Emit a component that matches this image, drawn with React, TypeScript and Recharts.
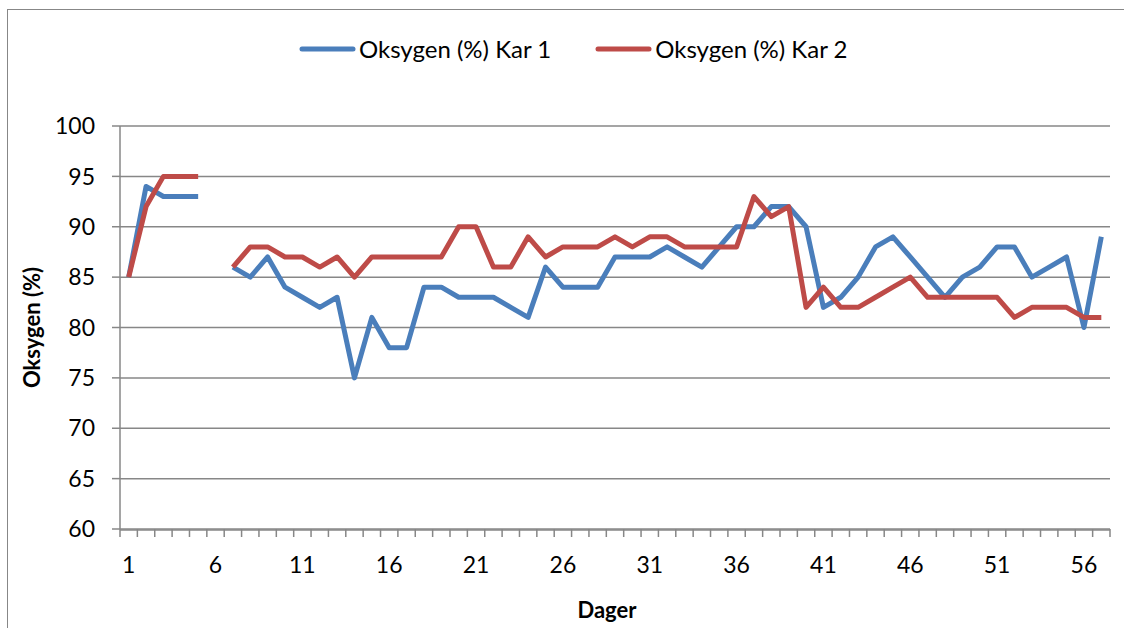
import * as React from 'react';
import { LineChart, Line, XAxis, YAxis, CartesianGrid, Legend } from 'recharts';

// dager 1..57, dag 6 mangler i begge kar
const days = [
  1, 2, 3, 4, 5, 6, 7, 8, 9, 10, 11, 12, 13, 14, 15, 16, 17, 18, 19, 20,
  21, 22, 23, 24, 25, 26, 27, 28, 29, 30, 31, 32, 33, 34, 35, 36, 37, 38, 39, 40,
  41, 42, 43, 44, 45, 46, 47, 48, 49, 50, 51, 52, 53, 54, 55, 56, 57,
];

const kar1 = [
  85, 94, 93, 93, 93, null, 86, 85, 87, 84, 83, 82, 83, 75, 81, 78, 78, 84, 84, 83,
  83, 83, 82, 81, 86, 84, 84, 84, 87, 87, 87, 88, 87, 86, 88, 90, 90, 92, 92, 90,
  82, 83, 85, 88, 89, 87, 85, 83, 85, 86, 88, 88, 85, 86, 87, 80, 89,
];

const kar2 = [
  85, 92, 95, 95, 95, null, 86, 88, 88, 87, 87, 86, 87, 85, 87, 87, 87, 87, 87, 90,
  90, 86, 86, 89, 87, 88, 88, 88, 89, 88, 89, 89, 88, 88, 88, 88, 93, 91, 92, 82,
  84, 82, 82, 83, 84, 85, 83, 83, 83, 83, 83, 81, 82, 82, 82, 81, 81,
];

const xTicks = [1, 6, 11, 16, 21, 26, 31, 36, 41, 46, 51, 56];
const yTicks = [60, 65, 70, 75, 80, 85, 90, 95, 100];

const data = days.map((d, i) => ({ day: d, kar1: kar1[i], kar2: kar2[i] }));
// tick marks sit between the days, like Excel
const dayBounds = [...days.map((d) => d - 0.5), days[days.length - 1] + 0.5];

const FONT = 'Lato, "Open Sans", sans-serif';
const GRID = '#878787';
const BLUE = '#4A7EBB';
const RED = '#BE4B48';

const renderLegend = (props: any) => {
  const { payload } = props;
  return (
    <div style={{ display: 'flex', alignItems: 'center', fontFamily: FONT, fontSize: 24, color: '#000', lineHeight: '28px' }}>
      {payload.map((entry: any, i: number) => (
        <div key={i} style={{ display: 'flex', alignItems: 'center', marginRight: i === 0 ? 44 : 0 }}>
          <svg width={57} height={8}>
            <line x1={3} y1={4} x2={54} y2={4} stroke={entry.color} strokeWidth={5} strokeLinecap="round" />
          </svg>
          <span style={{ marginLeft: 3 }}>{entry.value}</span>
        </div>
      ))}
    </div>
  );
};

const NoLabel = () => <g />;

const YTitle = (props: any) => {
  const { viewBox } = props;
  const cx = viewBox.x + 31;
  const cy = viewBox.y + viewBox.height / 2;
  return (
    <text x={cx} y={cy} transform={`rotate(-90, ${cx}, ${cy})`} textAnchor="middle" dominantBaseline="central"
      style={{ fontFamily: FONT, fontSize: 22, fontWeight: 700 }} fill="#000">
      Oksygen (%)
    </text>
  );
};

const XTitle = (props: any) => {
  const { viewBox } = props;
  const cx = viewBox.x + viewBox.width / 2 - 8;
  const y = viewBox.y + 88;
  return (
    <text x={cx} y={y} textAnchor="middle" style={{ fontFamily: FONT, fontSize: 22, fontWeight: 700 }} fill="#000">
      Dager
    </text>
  );
};

const App = () => {
  return (
    <div style={{ position: 'absolute', left: 0, top: 0, width: 1124, height: 628, background: '#fff' }}>
      <div style={{ position: 'absolute', left: 7, top: 9, right: 0, bottom: 0, borderLeft: `1.5px solid ${GRID}`, borderTop: `1.5px solid ${GRID}` }} />
      <div style={{ position: 'absolute', left: 0, top: 0 }}>
        <LineChart width={1124} height={628} data={data} margin={{ top: 126, right: 14, bottom: 0, left: 0 }}>
          <CartesianGrid xAxisId="m" vertical={false} stroke={GRID} strokeWidth={1.5} />
          <XAxis xAxisId="b" type="number" dataKey="day" domain={[0.5, 57.5]} ticks={dayBounds} interval={0}
            tick={NoLabel} tickSize={8} tickLine={{ stroke: GRID, strokeWidth: 1.5 }} axisLine={false} height={1} allowDataOverflow />
          <XAxis xAxisId="m" type="number" dataKey="day" domain={[0.5, 57.5]} ticks={xTicks} interval={0}
            tickLine={false} tickSize={7} tickMargin={20} axisLine={{ stroke: GRID, strokeWidth: 1.5 }} height={98}
            tick={{ fill: '#000', fontSize: 23, fontFamily: FONT }} allowDataOverflow label={{ content: XTitle }} />
          <YAxis type="number" domain={[60, 100]} ticks={yTicks} interval={0} width={120}
            tickSize={8} tickMargin={17} tickLine={{ stroke: GRID, strokeWidth: 1.5 }} axisLine={{ stroke: GRID, strokeWidth: 1.5 }}
            tick={{ fill: '#000', fontSize: 23, fontFamily: FONT }} label={{ content: YTitle }} />
          <Legend layout="horizontal" verticalAlign="middle" align="center" content={renderLegend}
            wrapperStyle={{ top: 35, left: 299, width: 'auto', height: 'auto' }} />
          <Line xAxisId="m" type="linear" dataKey="kar1" name="Oksygen (%) Kar 1" stroke={BLUE} strokeWidth={5}
            strokeLinejoin="round" dot={false} activeDot={false} isAnimationActive={false} />
          <Line xAxisId="m" type="linear" dataKey="kar2" name="Oksygen (%) Kar 2" stroke={RED} strokeWidth={5}
            strokeLinejoin="round" dot={false} activeDot={false} isAnimationActive={false} />
        </LineChart>
      </div>
    </div>
  );
};

export default App;
